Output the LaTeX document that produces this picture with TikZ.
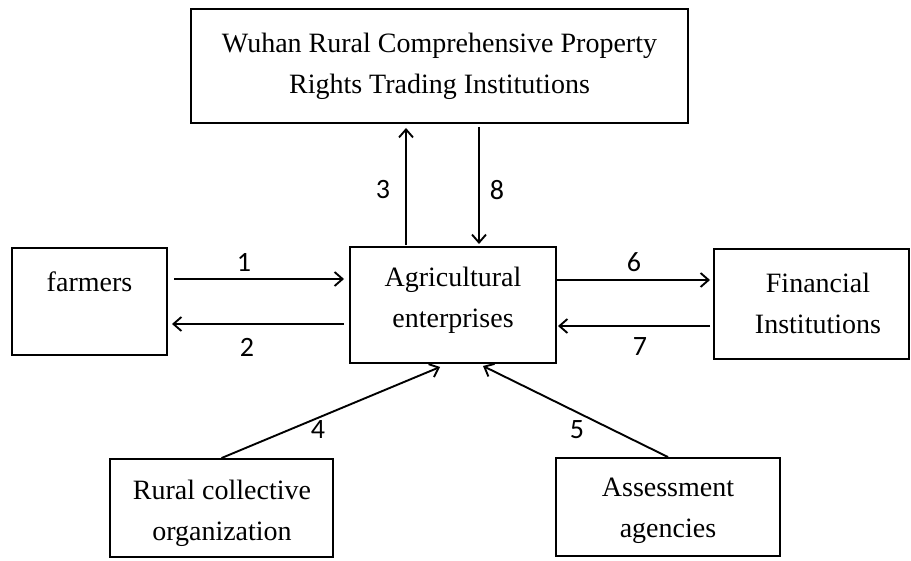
\documentclass[tikz,border=0pt]{standalone}
\usepackage{fontspec}
\setmainfont{Liberation Serif}
\newfontfamily\numfont{Carlito}
\usetikzlibrary{arrows.meta}
\tikzset{
  box/.style={draw, line width=1.9pt, inner sep=0pt},
  txt/.style={align=center, inner sep=0pt, font=\fontsize{28}{41}\selectfont},
  num/.style={inner sep=0pt, font=\numfont\fontsize{28}{30}\selectfont},
  arr/.style={line width=1.9pt, -{Straight Barb[length=8pt,width=14pt,line width=1.9pt]}}
}
\begin{document}
\begin{tikzpicture}[x=1pt,y=-1pt]
\useasboundingbox (0,0) rectangle (911,561);
% boxes
\node[box, minimum width=497pt, minimum height=114pt] (top) at (439.5,66) {};
\node[box, minimum width=155pt, minimum height=107pt] (farm) at (89.5,301.5) {};
\node[box, minimum width=206pt, minimum height=116pt] (agri) at (453,305) {};
\node[box, minimum width=195pt, minimum height=110pt] (fin) at (811.5,304) {};
\node[box, minimum width=223pt, minimum height=98pt] (rural) at (221.5,508) {};
\node[box, minimum width=224pt, minimum height=98pt] (assess) at (668,507) {};
% texts
\node[txt] (toptxt) at (439.5,66) {Wuhan Rural Comprehensive Property\\Rights Trading Institutions};
\node[txt] (farmtxt) at (89.5,282) {farmers};
\node[txt] (agritxt) at (453,300) {Agricultural\\enterprises};
\node[txt] (fintxt) at (818,303) {Financial\\Institutions};
\node[txt] (ruraltxt) at (222,513) {Rural collective\\organization};
\node[txt] (assesstxt) at (668,511) {Assessment\\agencies};
% connector end points
\coordinate (a1s) at (174,279); \coordinate (a1e) at (344,279);
\coordinate (a2s) at (344,324); \coordinate (a2e) at (172,324);
\coordinate (a3s) at (406,245); \coordinate (a3e) at (406,128);
\coordinate (a8s) at (479,127); \coordinate (a8e) at (479,244);
\coordinate (a6s) at (557,280); \coordinate (a6e) at (710,280);
\coordinate (a7s) at (710,326); \coordinate (a7e) at (558,326);
\coordinate (a4e) at (440,367);
\coordinate (a5e) at (483,366);
% connectors
\draw[arr] (a1s) -- (a1e);
\draw[arr] (a2s) -- (a2e);
\draw[arr] (a3s) -- (a3e);
\draw[arr] (a8s) -- (a8e);
\draw[arr] (a6s) -- (a6e);
\draw[arr] (a7s) -- (a7e);
\draw[arr] (rural.north) -- (a4e);
\draw[arr] (assess.north) -- (a5e);
% labels
\node[num] (n1) at (244,262) {1};
\node[num] (n2) at (247,347) {2};
\node[num] (n3) at (383,190) {3};
\node[num] (n8) at (497,190) {8};
\node[num] (n6) at (634,262) {6};
\node[num] (n7) at (640,347) {7};
\node[num] (n4) at (318,430) {4};
\node[num] (n5) at (577,430) {5};
\end{tikzpicture}
\end{document}
